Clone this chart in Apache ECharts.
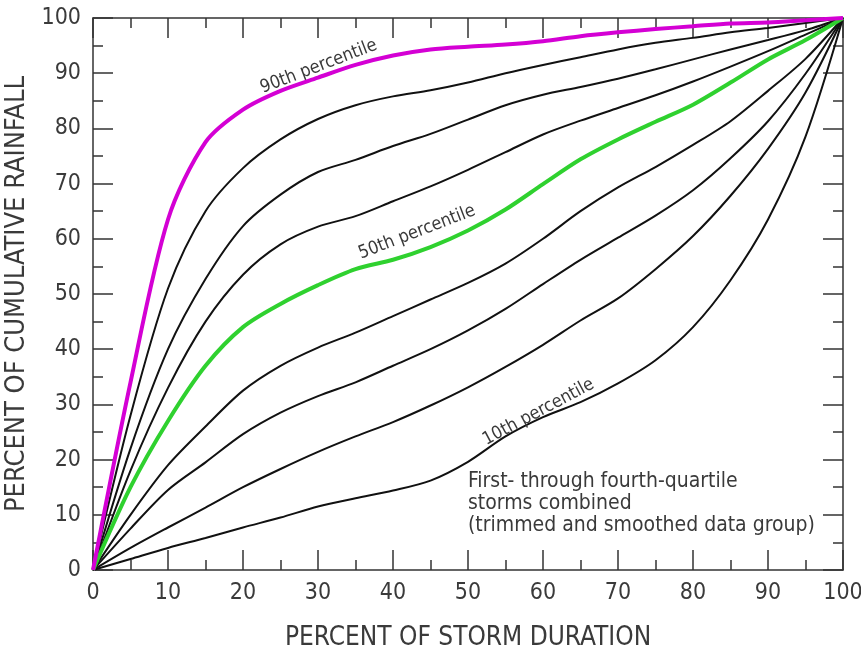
<!DOCTYPE html>
<html>
<head>
<meta charset="utf-8">
<script src="https://cdn.jsdelivr.net/npm/echarts@6/dist/echarts.min.js"></script>
<style>
  html, body { margin: 0; padding: 0; background: #fff; }
  #chart { width: 861px; height: 654px; }
</style>
</head>
<body>
<div id="chart"></div>
<script>
// percent of storm duration (x)
const durationPct = [0, 5, 10, 15, 20, 25, 30, 35, 40, 45, 50, 55, 60, 65, 70, 75, 80, 85, 90, 95, 100];

// percent of cumulative rainfall, one array per percentile curve
const p10 = [0, 2, 4, 5.8, 7.7, 9.5, 11.5, 13, 14.4, 16.2, 19.6, 24.2, 27.7, 30.4, 33.8, 38, 44, 52.5, 63.5, 78.5, 100];
const p20 = [0, 4, 7.7, 11.3, 15, 18.3, 21.4, 24.2, 26.8, 29.8, 33.1, 36.8, 40.8, 45.2, 49.2, 54.5, 60.5, 67.8, 76.3, 86.5, 100];
const p30 = [0, 7.5, 14.5, 19.5, 24.6, 28.5, 31.5, 34, 37, 40, 43.4, 47.3, 51.8, 56.2, 60.2, 64.2, 68.8, 74.6, 81.3, 89.9, 100];
const p40 = [0, 10, 19, 26, 32.5, 37, 40.3, 43, 46, 49, 52, 55.5, 60, 65, 69.3, 73, 77, 81.3, 86.8, 92.6, 100];
const p50 = [0, 15, 27, 37, 44, 48.2, 51.6, 54.5, 56.2, 58.5, 61.5, 65.3, 69.9, 74.4, 78, 81.2, 84.3, 88.3, 92.5, 96, 100];
const p60 = [0, 18, 33, 45, 53.5, 59, 62.2, 64.1, 66.8, 69.5, 72.5, 75.7, 78.9, 81.4, 83.7, 86, 88.5, 91.2, 94, 97, 100];
const p70 = [0, 22, 40, 52.7, 62.3, 68, 72.1, 74.3, 76.8, 79, 81.6, 84.2, 86.1, 87.5, 89, 90.7, 92.5, 94.3, 96, 97.8, 100];
const p80 = [0, 28, 51, 65, 72.8, 78, 81.7, 84.2, 85.8, 86.9, 88.3, 90, 91.5, 92.9, 94.3, 95.5, 96.4, 97.4, 98.2, 99.1, 100];
const p90 = [0, 34, 63.5, 77.5, 83.4, 86.8, 89.2, 91.5, 93.2, 94.3, 94.8, 95.2, 95.8, 96.7, 97.4, 98, 98.5, 99, 99.2, 99.6, 100];

const FONT = "'Liberation Sans Narrow', 'DejaVu Sans Condensed', 'Roboto', sans-serif";
const inkColor = '#3a3a3a';

const pairs = (ys) => durationPct.map((x, i) => [x, ys[i]]);

const curve = (name, ys, color, width, z) => ({
  name: name,
  type: 'line',
  data: pairs(ys),
  smooth: 0.3,
  showSymbol: false,
  z: z,
  lineStyle: { color: color, width: width },
  emphasis: { disabled: true }
});

const tag = (coord, text, rot) => ({
  coord: coord,
  value: text,
  label: { formatter: text, rotate: rot }
});

let mychart = echarts.init(document.getElementById('chart'));

const xBase = {
  type: 'value',
  min: 0,
  max: 100,
  interval: 10,
  axisLine: { show: true, onZero: false, lineStyle: { color: '#333', width: 1.5 } },
  axisTick: { show: true, inside: true, length: 20, lineStyle: { color: '#333', width: 1.5 } },
  minorTick: { show: true, splitNumber: 2, length: 10, lineStyle: { color: '#333', width: 1.5 } },
  splitLine: { show: false },
  minorSplitLine: { show: false }
};

const nameStyle = { color: inkColor, fontSize: 26, fontFamily: FONT };

const p10Series = curve('10th', p10, '#111', 2, 2);
p10Series.markPoint = {
  symbol: 'circle',
  symbolSize: 0,
  silent: true,
  label: { show: true, color: inkColor, fontSize: 18, fontFamily: FONT },
  data: [
    tag([59.4, 28.6], '10th percentile', 28),
    {
      coord: [50, 12.1],
      label: {
        formatter: 'First- through fourth-quartile\nstorms combined\n(trimmed and smoothed data group)',
        align: 'left',
        verticalAlign: 'middle',
        fontSize: 21,
        lineHeight: 22,
        color: inkColor
      }
    }
  ]
};

const p50Series = curve('50th', p50, '#2fd12f', 4, 5);
p50Series.markPoint = {
  symbol: 'circle', symbolSize: 0, silent: true,
  label: { show: true, color: inkColor, fontSize: 18, fontFamily: FONT },
  data: [tag([43.2, 61.2], '50th percentile', 21)]
};

const p90Series = curve('90th', p90, '#d400d4', 4, 6);
p90Series.markPoint = {
  symbol: 'circle', symbolSize: 0, silent: true,
  label: { show: true, color: inkColor, fontSize: 18, fontFamily: FONT },
  data: [tag([30.1, 91.2], '90th percentile', 21)]
};

mychart.setOption({
  animation: false,
  backgroundColor: '#fff',
  grid: { left: 93, right: 18, top: 18, bottom: 84, outerBoundsMode: 'none' },
  xAxis: [
    Object.assign({}, xBase, {
      position: 'bottom',
      name: 'PERCENT OF STORM DURATION',
      nameLocation: 'middle',
      nameGap: 55,
      nameTextStyle: nameStyle,
      axisLabel: { color: inkColor, fontSize: 23, fontFamily: FONT, margin: 12 }
    }),
    Object.assign({}, xBase, { position: 'top', axisLabel: { show: false } })
  ],
  yAxis: [
    Object.assign({}, xBase, {
      position: 'left',
      name: 'PERCENT OF CUMULATIVE RAINFALL',
      nameLocation: 'middle',
      nameGap: 53,
      nameTextStyle: { color: inkColor, fontSize: 27, fontFamily: FONT },
      axisLabel: { color: inkColor, fontSize: 23, fontFamily: FONT, margin: 12 }
    }),
    Object.assign({}, xBase, { position: 'right', axisLabel: { show: false } })
  ],
  series: [
    p10Series,
    curve('20th', p20, '#111', 2, 2),
    curve('30th', p30, '#111', 2, 2),
    curve('40th', p40, '#111', 2, 2),
    curve('60th', p60, '#111', 2, 2),
    curve('70th', p70, '#111', 2, 2),
    curve('80th', p80, '#111', 2, 2),
    p50Series,
    p90Series
  ]
});
</script>
</body>
</html>
